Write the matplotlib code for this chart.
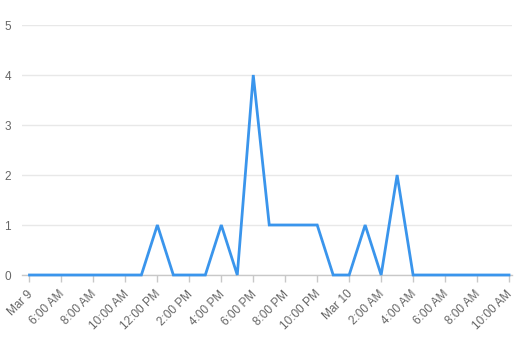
import matplotlib
matplotlib.use("Agg")
import matplotlib.pyplot as plt
import matplotlib.transforms as mtransforms

# hourly counts from Mar 9 (first tick) to Mar 10 10:00 AM
counts = [0, 0, 0, 0, 0, 0, 0, 0, 1, 0, 0, 0, 1, 0, 4, 1, 1, 1, 1, 0,
          0, 1, 0, 2, 0, 0, 0, 0, 0, 0, 0]
hours = list(range(len(counts)))
tick_labels = ["Mar 9", "6:00 AM", "8:00 AM", "10:00 AM", "12:00 PM", "2:00 PM",
               "4:00 PM", "6:00 PM", "8:00 PM", "10:00 PM", "Mar 10", "2:00 AM",
               "4:00 AM", "6:00 AM", "8:00 AM", "10:00 AM"]
tick_hours = list(range(0, 31, 2))
y_ticks = [0, 1, 2, 3, 4, 5]

plt.rcParams['font.family'] = ['Liberation Sans', 'DejaVu Sans']

W, H = 514, 343
fig = plt.figure(figsize=(W / 100, H / 100), dpi=100)
ax = fig.add_axes([22 / W, (H - 275) / H, 490 / W, 250 / H])

ax.plot(hours, counts, color='#3a95ec', lw=2, solid_joinstyle='miter', zorder=3, clip_on=False)

x0 = -7.5 / 16
x1 = 30 + 3 / 16
ax.set_xlim(x0, x1)
ax.set_ylim(0, 5)

ax.set_yticks(y_ticks)
ax.set_yticklabels([str(v) for v in y_ticks])
ax.grid(axis='y', color='#e8e8e8', lw=1)
ax.set_axisbelow(True)

ax.set_xticks(tick_hours)
ax.set_xticklabels(tick_labels, rotation=45, ha='right', va='center', rotation_mode='anchor')

for s in ['top', 'right', 'left']:
    ax.spines[s].set_visible(False)
ax.spines['bottom'].set_color('#c8c8c8')
ax.spines['bottom'].set_linewidth(1)

ax.tick_params(axis='y', length=0, pad=8, labelsize=8.5, labelcolor='#666666')
ax.tick_params(axis='x', length=5, width=1, color='#c8c8c8', pad=7.5, labelsize=8.5,
               labelcolor='#666666', direction='out')
offset = mtransforms.ScaledTranslation(1.5 / 100, 0, fig.dpi_scale_trans)
for lbl in ax.get_xticklabels():
    lbl.set_transform(lbl.get_transform() + offset)

fig.savefig('out.png', dpi=100, facecolor='white')
